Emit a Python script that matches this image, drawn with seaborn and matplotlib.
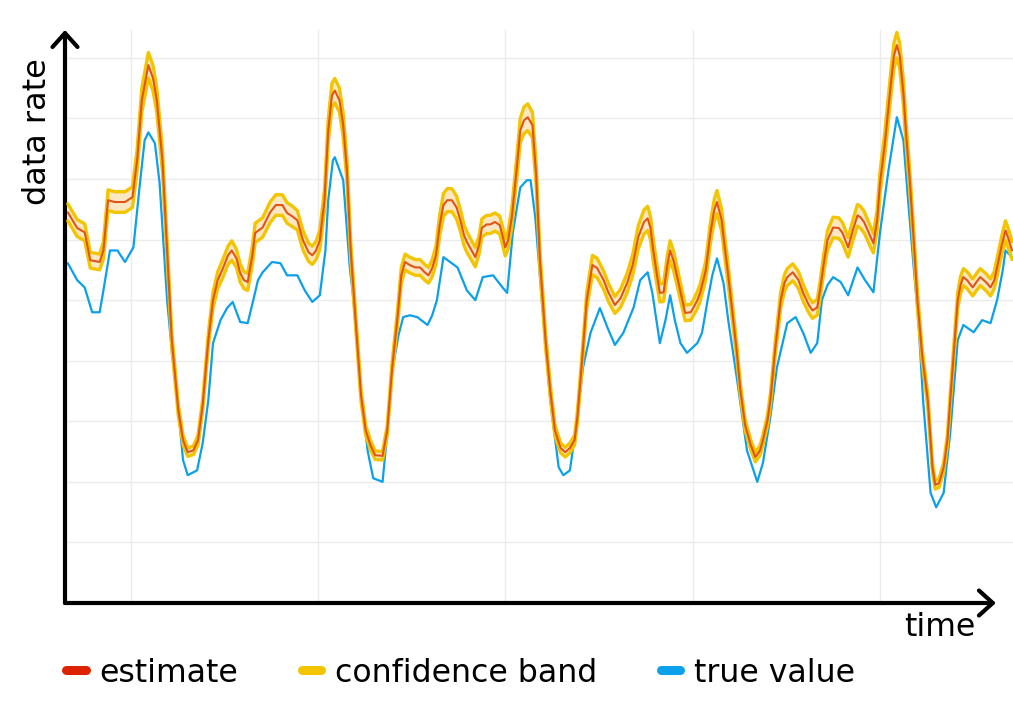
import numpy as np
import pandas as pd
import matplotlib
matplotlib.use("Agg")
import matplotlib.pyplot as plt
from matplotlib.lines import Line2D
import seaborn as sns

# estimate (red) with confidence half-width
est_time = [0.3, 1.3, 2.1, 2.7, 3.7, 4.1, 4.6, 5.3, 6.4, 7.2, 7.7, 8.2, 8.9, 9.4, 9.8,
            10.4, 10.9, 11.4, 12.1, 12.6, 13.1, 13.7, 14.2, 14.7, 15.3, 15.8, 16.3, 16.9,
            17.4, 17.8, 18.3, 18.7, 19.1, 19.5, 20.0, 20.3, 21.1, 21.9, 22.5, 23.2, 23.7,
            24.2, 24.8, 25.4, 26.0, 26.4, 26.8, 27.2, 27.7, 28.1, 28.5, 28.8, 29.3, 29.7,
            30.1, 30.5, 31.1, 31.6, 32.1, 32.6, 33.1, 33.9, 34.4, 34.9, 35.5, 35.9, 36.3,
            36.8, 37.4, 37.9, 38.4, 38.8, 39.2, 39.6, 40.0, 40.4, 40.8, 41.3, 41.8, 42.2,
            42.6, 42.9, 43.4, 43.8, 44.2, 44.5, 45.0, 45.4, 45.9, 46.4, 46.7, 47.0, 47.3,
            47.7, 48.2, 48.6, 49.0, 49.4, 49.9, 50.3, 50.7, 51.3, 51.8, 52.3, 52.9, 53.4,
            53.9, 54.4, 54.7, 55.2, 55.7, 56.3, 56.8, 57.5, 58.0, 58.7, 59.3, 60.0, 60.6,
            61.2, 61.8, 62.2, 62.5, 62.8, 63.2, 63.5, 63.9, 64.3, 64.6, 65.0, 65.5, 65.9,
            66.2, 66.8, 67.1, 67.5, 67.8, 68.4, 68.9, 69.3, 69.6, 70.1, 70.4, 70.7, 71.1,
            71.7, 72.1, 72.6, 73.2, 73.7, 74.2, 74.5, 75.0, 75.3, 75.8, 76.4, 76.8, 77.1,
            77.7, 78.3, 78.8, 79.4, 79.8, 80.3, 80.6, 81.0, 81.4, 82.0, 82.6, 83.0, 83.3,
            83.6, 84.1, 84.6, 84.9, 85.3, 85.7, 86.0, 86.3, 86.7, 87.0, 87.5, 87.8, 88.2,
            88.5, 88.8, 89.1, 89.5, 89.8, 90.2, 90.6, 91.0, 91.5, 92.1, 92.6, 92.9, 93.3,
            93.8, 94.2, 94.5, 94.9, 95.3, 95.6, 95.9, 96.3, 96.9, 97.3, 97.7, 98.3, 98.8,
            99.2, 99.5, 100.0, 100.4, 100.7, 101.1]
estimate = [64.5, 61.9, 61.2, 56.6, 56.3, 58.2, 66.5, 66.2, 66.2, 67.0, 73.1, 83.0, 88.8, 86.6, 83.0,
            73.1, 58.2, 43.4, 31.8, 26.9, 24.9, 25.2, 26.9, 32.7, 43.4, 50.0, 53.3, 55.4,
            57.4, 58.2, 56.9, 54.5, 53.3, 53.0, 57.4, 61.1, 62.0, 64.5, 65.7, 65.7, 64.4,
            63.9, 63.2, 59.9, 57.9, 57.4, 58.2, 59.9, 66.5, 78.0, 83.8, 84.6, 83.0, 78.9,
            71.4, 58.2, 45.0, 34.3, 28.5, 26.1, 24.4, 24.3, 28.5, 38.4, 47.2, 54.1, 56.3,
            55.8, 55.4, 55.4, 54.6, 54.1, 55.3, 57.4, 62.4, 65.7, 66.5, 66.5, 65.3, 63.2,
            60.7, 59.6, 58.2, 57.1, 59.1, 61.9, 62.5, 62.5, 62.9, 62.4, 60.7, 58.7, 59.9,
            63.7, 71.4, 78.0, 79.7, 80.2, 78.9, 70.6, 56.6, 43.4, 35.1, 28.5, 25.6, 24.9,
            25.6, 26.9, 30.7, 40.1, 50.0, 55.8, 55.3, 53.3, 51.3, 49.2, 50.3, 52.8, 55.8,
            60.4, 62.9, 63.5, 61.9, 58.2, 54.1, 51.2, 51.3, 55.8, 58.2, 56.3, 52.8, 50.0,
            47.9, 48.0, 48.8, 50.0, 51.2, 54.9, 61.1, 64.8, 66.2, 63.2, 59.1, 55.4, 50.0,
            41.7, 35.1, 29.4, 26.1, 24.1, 25.2, 26.9, 30.2, 33.5, 41.7, 50.0, 52.8, 53.8,
            54.6, 53.3, 51.2, 49.2, 48.3, 48.8, 51.6, 56.1, 59.9, 62.0, 61.9, 61.1, 59.9,
            58.7, 61.5, 64.0, 63.7, 62.9, 61.5, 60.4, 59.4, 63.2, 69.3, 75.6, 80.2, 86.3,
            90.4, 92.1, 90.4, 84.2, 77.2, 69.3, 59.9, 50.0, 40.9, 33.5, 22.4, 19.5, 19.8,
            22.4, 26.9, 33.5, 41.7, 50.0, 52.5, 53.8, 53.3, 52.1, 53.0, 53.8, 53.0, 52.1,
            53.3, 55.4, 59.1, 61.5, 60.2, 58.2]
band_halfwidth = [1.4, 1.4, 1.4, 1.3, 1.3, 1.4, 1.7, 1.7, 1.7, 1.7, 1.8, 2.0, 2.1, 2.1, 2.0,
                  1.8, 1.5, 1.2, 0.9, 0.8, 0.7, 0.7, 0.8, 0.9, 1.1, 1.3, 1.4, 1.5,
                  1.5, 1.6, 1.5, 1.5, 1.4, 1.4, 1.5, 1.6, 1.6, 1.7, 1.7, 1.7, 1.7,
                  1.7, 1.6, 1.6, 1.5, 1.5, 1.5, 1.6, 1.7, 1.9, 2.0, 2.0, 2.0, 1.9,
                  1.8, 1.5, 1.2, 1.0, 0.8, 0.8, 0.7, 0.7, 0.8, 1.0, 1.2, 1.3, 1.3,
                  1.3, 1.3, 1.3, 1.3, 1.3, 1.4, 1.5, 1.7, 1.9, 1.9, 1.9, 1.9, 1.8,
                  1.7, 1.7, 1.6, 1.6, 1.5, 1.5, 1.5, 1.5, 1.5, 1.5, 1.5, 1.4, 1.5,
                  1.6, 1.8, 2.0, 2.2, 2.2, 2.1, 1.8, 1.5, 1.2, 1.0, 0.9, 0.8, 0.8,
                  0.8, 0.8, 0.9, 1.1, 1.3, 1.6, 1.6, 1.5, 1.5, 1.4, 1.5, 1.6, 1.7,
                  1.9, 2.0, 2.0, 1.9, 1.8, 1.6, 1.5, 1.5, 1.6, 1.6, 1.6, 1.5, 1.4,
                  1.3, 1.3, 1.3, 1.4, 1.4, 1.5, 1.7, 1.8, 1.9, 1.8, 1.7, 1.6, 1.4,
                  1.2, 1.0, 0.9, 0.8, 0.8, 0.8, 0.8, 0.9, 1.0, 1.1, 1.3, 1.4, 1.4,
                  1.4, 1.4, 1.4, 1.3, 1.3, 1.3, 1.4, 1.5, 1.6, 1.7, 1.7, 1.7, 1.7,
                  1.6, 1.7, 1.8, 1.8, 1.8, 1.7, 1.7, 1.6, 1.7, 1.8, 1.9, 2.0, 2.1,
                  2.1, 2.1, 2.1, 2.0, 1.9, 1.8, 1.6, 1.4, 1.1, 1.0, 0.8, 0.7, 0.7,
                  0.8, 0.9, 1.0, 1.1, 1.3, 1.4, 1.4, 1.4, 1.4, 1.4, 1.4, 1.4, 1.4,
                  1.4, 1.5, 1.5, 1.6, 1.6, 1.5]

# true value (blue)
true_time = [0.3, 1.3, 2.1, 2.9, 3.7, 4.1, 4.8, 5.6, 6.4, 7.3, 8.0, 8.5, 8.9, 9.6, 10.1,
             10.9, 11.4, 12.0, 12.6, 13.1, 14.1, 14.7, 15.3, 15.8, 16.6, 17.3, 17.9, 18.7,
             19.5, 20.1, 20.6, 21.1, 22.1, 23.0, 23.7, 24.8, 25.6, 26.4, 27.2, 27.8, 28.1,
             28.6, 28.8, 29.7, 30.4, 30.8, 31.5, 32.3, 32.9, 33.9, 34.4, 35.0, 35.6, 36.1,
             36.8, 37.6, 38.7, 39.2, 39.7, 40.4, 41.1, 41.9, 42.9, 43.8, 44.6, 45.7, 46.7,
             47.2, 47.8, 48.6, 49.3, 49.7, 50.2, 50.9, 51.8, 52.7, 53.2, 53.9, 54.7, 55.3,
             56.1, 57.1, 57.9, 58.7, 59.6, 60.7, 61.4, 62.2, 62.7, 63.5, 64.1, 64.6, 65.1,
             65.7, 66.4, 67.5, 68.0, 68.6, 69.1, 69.6, 70.3, 70.8, 71.8, 72.8, 73.9, 74.5,
             75.3, 76.0, 77.1, 78.0, 78.8, 79.6, 80.3, 80.8, 81.4, 82.0, 82.8, 83.6, 84.6,
             85.4, 86.3, 87.0, 87.9, 88.8, 89.5, 90.0, 90.6, 91.1, 91.6, 92.4, 93.0, 93.8,
             94.5, 95.3, 95.9, 97.0, 97.9, 98.8, 99.5, 100.1, 100.4, 101.1]
true_value = [56.1, 53.3, 52.1, 48.0, 48.0, 51.6, 58.2, 58.2, 56.3, 58.7, 69.3, 76.4, 77.7, 75.9, 69.3,
              50.0, 41.7, 33.5, 23.6, 21.1, 21.9, 26.4, 33.5, 42.9, 46.7, 48.7, 49.7, 46.4,
              46.2, 50.0, 53.3, 54.6, 56.3, 56.1, 54.1, 54.1, 51.6, 49.7, 50.8, 58.2, 66.5,
              73.1, 73.6, 69.8, 55.4, 50.0, 36.3, 25.2, 20.6, 20.0, 28.1, 38.9, 44.2, 47.2,
              47.5, 47.2, 45.9, 47.5, 50.0, 57.1, 56.3, 55.4, 51.6, 50.0, 53.8, 54.1, 52.1,
              51.2, 61.1, 68.6, 69.8, 69.8, 63.7, 50.0, 33.5, 22.4, 21.1, 21.9, 30.7, 38.9,
              44.6, 48.7, 45.5, 42.6, 44.6, 48.8, 53.3, 54.6, 51.2, 42.9, 46.7, 50.8, 46.7,
              42.9, 41.3, 42.9, 44.6, 50.0, 54.1, 56.9, 52.8, 46.7, 36.3, 25.2, 20.0, 23.1,
              30.7, 38.9, 46.2, 47.2, 44.6, 41.3, 42.9, 50.0, 52.5, 53.8, 53.0, 50.8, 55.4,
              53.3, 51.3, 61.1, 71.4, 80.2, 76.4, 66.5, 55.4, 46.7, 33.5, 18.2, 15.8, 18.2,
              28.1, 43.4, 45.9, 44.7, 46.7, 46.2, 50.0, 54.9, 58.2, 57.1]

legend_labels = ["estimate", "confidence band", "true value"]

RED = "#dd2200"
EST_LINE = "#e2531a"
YELLOW = "#f2c500"
FILL = "#fbe8c2"
BLUE = "#0aa0ea"
GRID = "#ebebeb"

sns.set_style("white")
plt.rcParams["font.family"] = ["DejaVu Sans"]
plt.rcParams["text.color"] = "black"
plt.rcParams["lines.solid_joinstyle"] = "round"

est = pd.DataFrame({"time": est_time, "estimate": estimate, "hw": band_halfwidth})
est["lower"] = est["estimate"] - est["hw"]
est["upper"] = est["estimate"] + est["hw"]
truth = pd.DataFrame({"time": true_time, "value": true_value})

fig = plt.figure(figsize=(10.13, 7.16), dpi=100)
ax = fig.add_axes([65 / 1013, 113 / 716, 948 / 1013, 573 / 716])

ax.fill_between(est["time"], est["lower"], est["upper"], color=FILL, lw=0, zorder=2)
sns.lineplot(data=truth, x="time", y="value", color=BLUE, lw=1.6,
             estimator=None, ax=ax, zorder=3)
sns.lineplot(data=est, x="time", y="lower", color=YELLOW, lw=2.4,
             estimator=None, ax=ax, zorder=4)
sns.lineplot(data=est, x="time", y="upper", color=YELLOW, lw=2.4,
             estimator=None, ax=ax, zorder=4)
sns.lineplot(data=est, x="time", y="estimate", color=EST_LINE, lw=1.5,
             estimator=None, ax=ax, zorder=5)

ax.set_xlim(0, 101.2)
ax.set_ylim(0, 94.6)
ax.set_xticks([7, 27, 47, 67, 87])
ax.set_yticks(np.arange(10, 91, 10))
ax.set_xticklabels([])
ax.set_yticklabels([])
ax.set_xlabel("")
ax.set_ylabel("")
ax.grid(True, color=GRID, lw=1)
ax.set_axisbelow(True)
ax.tick_params(length=6, width=1, color=GRID)
for s in ax.spines.values():
    s.set_visible(False)

# axis arrows
arrow = dict(arrowstyle="->,head_length=0.5,head_width=0.45", lw=3, color="black",
             shrinkA=0, shrinkB=0, mutation_scale=20)
ax.annotate("", xy=(0, 1.0), xytext=(0, 0), xycoords="axes fraction", arrowprops=arrow)
ax.annotate("", xy=(0.982, 0), xytext=(0, 0), xycoords="axes fraction", arrowprops=arrow)

fig.text(38 / 1013, 1 - 132 / 716, "data rate", rotation=90, ha="center", va="center",
         fontsize=23, color="black")
fig.text(975 / 1013, 1 - 627 / 716, "time", ha="right", va="center", fontsize=22.7,
         color="black")

handles = [Line2D([], [], color=c, lw=6.5, solid_capstyle="round") for c in (RED, YELLOW, BLUE)]
fig.legend(handles, legend_labels, loc="center left", bbox_to_anchor=(66 / 1013, 1 - 673 / 716),
           ncol=3, frameon=False, fontsize=22.7, handlelength=0.62, handletextpad=0.45,
           columnspacing=2.0, borderpad=0, borderaxespad=0, labelcolor="black")

fig.savefig("out.png", dpi=100)
